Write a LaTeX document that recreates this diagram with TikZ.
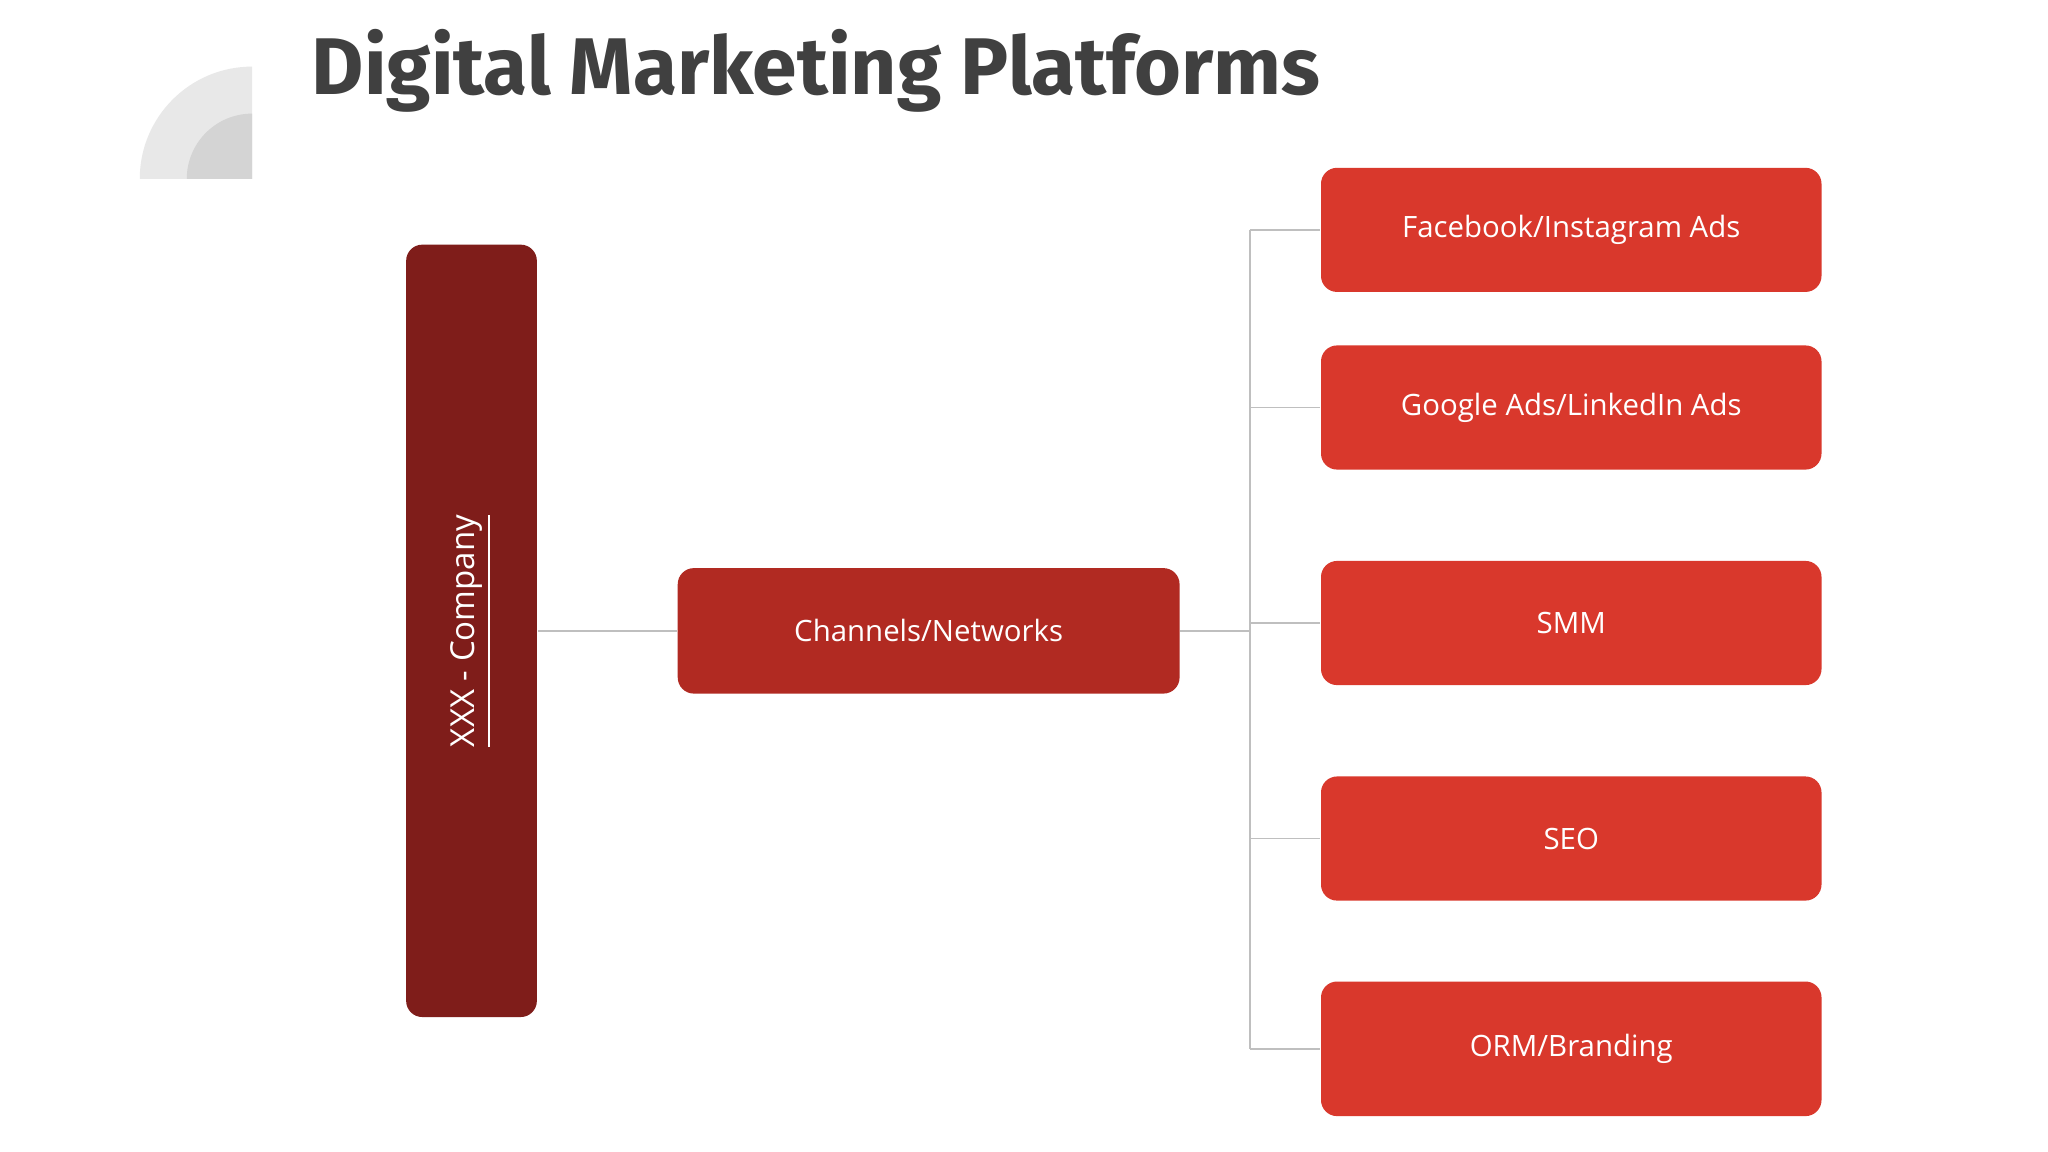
\documentclass[tikz,border=0pt]{standalone}
\usepackage{fontspec}
\setmainfont{Open Sans}
\newfontfamily\titlefont{Fira Sans}
\begin{document}
\begin{tikzpicture}[x=0.01cm,y=-0.01cm,
  conn/.style={draw=black!25,line width=0.35pt},
  box/.style={rounded corners=3.5pt,text=white,font=\fontsize{6.4}{7}\selectfont,inner sep=0pt},
  leaf/.style={box,fill=lred,minimum width=3.83cm,minimum height=0.95cm}]
\definecolor{lred}{HTML}{D9382C}
\definecolor{mred}{HTML}{B12A22}
\definecolor{dred}{HTML}{7F1D1A}
\fill[white] (0,0) rectangle (1568,882);
\useasboundingbox (0,0) rectangle (1568,882);
\node[anchor=west,text=black!75,font=\titlefont\bfseries\fontsize{17.5}{20}\selectfont,inner sep=0pt] (title) at (238,54) {Digital Marketing Platforms};
\fill[black!9] (193,137) -- (107,137) arc[start angle=180,end angle=270,radius=86] -- cycle;
\fill[black!17] (193,137) -- (143,137) arc[start angle=180,end angle=270,radius=50] -- cycle;
\node[box,fill=dred,minimum width=1.0cm,minimum height=5.91cm] (co) at (361,483) {};
\node[rotate=90,text=white,font=\fontsize{7.2}{8}\selectfont] (colab) at (co.center) {$\underline{\hbox{XXX - Company}}$};
\node[box,fill=mred,minimum width=3.84cm,minimum height=0.96cm] (ch) at (711,483) {Channels/Networks};
\node[leaf] (a) at (1203,176) {Facebook/Instagram Ads};
\node[leaf] (b) at (1203,312) {Google Ads/LinkedIn Ads};
\node[leaf] (c) at (1203,477) {SMM};
\node[leaf] (d) at (1203,642) {SEO};
\node[leaf,minimum height=1.03cm] (e) at (1203,803) {ORM/Branding};
\coordinate (j) at (957,483);
\draw[conn] (co.east |- ch) -- (ch.west);
\draw[conn] (ch.east) -- (j);
\draw[conn] (j |- a.west) -- (j |- e.west);
\foreach \n in {a,b,c,d,e} \draw[conn] (j |- \n.west) -- (\n.west);
\end{tikzpicture}
\end{document}
